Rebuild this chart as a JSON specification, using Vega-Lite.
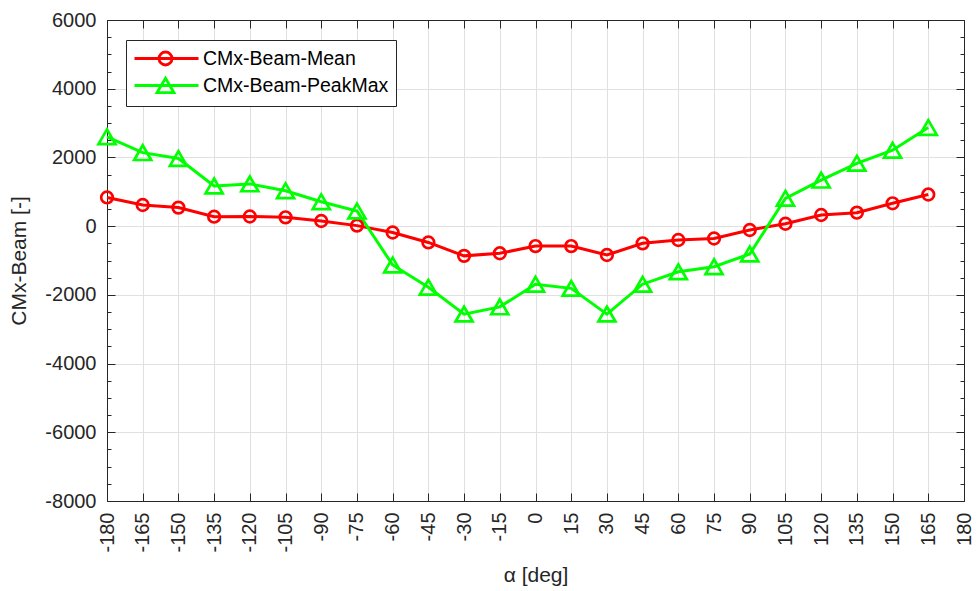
{
  "$schema": "https://vega.github.io/schema/vega-lite/v6.json",
  "width": 857,
  "height": 481,
  "autosize": {"type": "none"},
  "padding": {"left": 107, "top": 20, "right": 15, "bottom": 90},
  "background": "white",
  "data": {
    "values": [
      {"alpha": -180, "series": "CMx-Beam-Mean", "value": 835},
      {"alpha": -165, "series": "CMx-Beam-Mean", "value": 615},
      {"alpha": -150, "series": "CMx-Beam-Mean", "value": 540},
      {"alpha": -135, "series": "CMx-Beam-Mean", "value": 275},
      {"alpha": -120, "series": "CMx-Beam-Mean", "value": 280},
      {"alpha": -105, "series": "CMx-Beam-Mean", "value": 257},
      {"alpha": -90, "series": "CMx-Beam-Mean", "value": 150},
      {"alpha": -75, "series": "CMx-Beam-Mean", "value": 15},
      {"alpha": -60, "series": "CMx-Beam-Mean", "value": -185},
      {"alpha": -45, "series": "CMx-Beam-Mean", "value": -475},
      {"alpha": -30, "series": "CMx-Beam-Mean", "value": -865},
      {"alpha": -15, "series": "CMx-Beam-Mean", "value": -790},
      {"alpha": 0, "series": "CMx-Beam-Mean", "value": -580},
      {"alpha": 15, "series": "CMx-Beam-Mean", "value": -580},
      {"alpha": 30, "series": "CMx-Beam-Mean", "value": -840},
      {"alpha": 45, "series": "CMx-Beam-Mean", "value": -500},
      {"alpha": 60, "series": "CMx-Beam-Mean", "value": -403},
      {"alpha": 75, "series": "CMx-Beam-Mean", "value": -360},
      {"alpha": 90, "series": "CMx-Beam-Mean", "value": -112},
      {"alpha": 105, "series": "CMx-Beam-Mean", "value": 70},
      {"alpha": 120, "series": "CMx-Beam-Mean", "value": 324},
      {"alpha": 135, "series": "CMx-Beam-Mean", "value": 392},
      {"alpha": 150, "series": "CMx-Beam-Mean", "value": 665},
      {"alpha": 165, "series": "CMx-Beam-Mean", "value": 920},
      {"alpha": -180, "series": "CMx-Beam-PeakMax", "value": 2600},
      {"alpha": -165, "series": "CMx-Beam-PeakMax", "value": 2140},
      {"alpha": -150, "series": "CMx-Beam-PeakMax", "value": 1970},
      {"alpha": -135, "series": "CMx-Beam-PeakMax", "value": 1170},
      {"alpha": -120, "series": "CMx-Beam-PeakMax", "value": 1230},
      {"alpha": -105, "series": "CMx-Beam-PeakMax", "value": 1030},
      {"alpha": -90, "series": "CMx-Beam-PeakMax", "value": 710},
      {"alpha": -75, "series": "CMx-Beam-PeakMax", "value": 440},
      {"alpha": -60, "series": "CMx-Beam-PeakMax", "value": -1130},
      {"alpha": -45, "series": "CMx-Beam-PeakMax", "value": -1780},
      {"alpha": -30, "series": "CMx-Beam-PeakMax", "value": -2560},
      {"alpha": -15, "series": "CMx-Beam-PeakMax", "value": -2350},
      {"alpha": 0, "series": "CMx-Beam-PeakMax", "value": -1690},
      {"alpha": 15, "series": "CMx-Beam-PeakMax", "value": -1810},
      {"alpha": 30, "series": "CMx-Beam-PeakMax", "value": -2560},
      {"alpha": 45, "series": "CMx-Beam-PeakMax", "value": -1690},
      {"alpha": 60, "series": "CMx-Beam-PeakMax", "value": -1330},
      {"alpha": 75, "series": "CMx-Beam-PeakMax", "value": -1180},
      {"alpha": 90, "series": "CMx-Beam-PeakMax", "value": -810},
      {"alpha": 105, "series": "CMx-Beam-PeakMax", "value": 810},
      {"alpha": 120, "series": "CMx-Beam-PeakMax", "value": 1340},
      {"alpha": 135, "series": "CMx-Beam-PeakMax", "value": 1830},
      {"alpha": 150, "series": "CMx-Beam-PeakMax", "value": 2210},
      {"alpha": 165, "series": "CMx-Beam-PeakMax", "value": 2870}
    ]
  },
  "resolve": {"axis": {"x": "independent", "y": "independent"}},
  "layer": [
    {
      "mark": {"type": "line", "strokeWidth": 3},
      "encoding": {
        "x": {
          "field": "alpha", "type": "quantitative",
          "scale": {"domain": [-180, 180], "nice": false, "zero": false},
          "axis": {
            "orient": "bottom",
            "title": "α [deg]",
            "values": [-180, -165, -150, -135, -120, -105, -90, -75, -60, -45, -30, -15, 0, 15, 30, 45, 60, 75, 90, 105, 120, 135, 150, 165, 180],
            "labelExpr": "'' + datum.value",
            "labelAngle": 270, "labelAlign": "right", "labelBaseline": "middle",
            "tickSize": -8, "labelPadding": 19,
            "labelOverlap": false, "labelFlush": false,
            "titlePadding": 12,
            "grid": true
          }
        },
        "y": {
          "field": "value", "type": "quantitative",
          "scale": {"domain": [-8000, 6000], "nice": false, "zero": false},
          "axis": {
            "orient": "left",
            "title": "CMx-Beam [-]",
            "values": [-8000, -7500, -7000, -6500, -6000, -5500, -5000, -4500, -4000, -3500, -3000, -2500, -2000, -1500, -1000, -500, 0, 500, 1000, 1500, 2000, 2500, 3000, 3500, 4000, 4500, 5000, 5500, 6000],
            "labelExpr": "datum.value % 2000 === 0 ? '' + datum.value : ''",
            "tickSize": {"condition": {"test": "datum.value % 2000 === 0", "value": -8}, "value": -4},
            "gridOpacity": {"condition": {"test": "datum.value % 2000 === 0", "value": 1}, "value": 0},
            "labelPadding": 19,
            "labelOverlap": false, "labelFlush": false,
            "titlePadding": 15,
            "grid": true
          }
        },
        "color": {
          "field": "series", "type": "nominal",
          "scale": {"domain": ["CMx-Beam-Mean", "CMx-Beam-PeakMax"], "range": ["#ff0000", "#00ff00"]},
          "legend": {
            "title": null,
            "orient": "none", "legendX": 19, "legendY": 20,
            "padding": 7,
            "strokeColor": "#262626", "fillColor": "white",
            "symbolSize": 400, "symbolStrokeWidth": 2.8,
            "labelFontSize": 19.5, "labelFont": "Liberation Sans", "labelColor": "#000000",
            "labelOffset": 47, "labelLimit": 400, "rowPadding": 1,
            "encode": {
              "symbols": {
                "update": {
                  "shape": {"signal": "datum.value === 'CMx-Beam-Mean' ? 'M-1.0,0H5.4M1.45,0A0.65,0.65 0 1,1 2.75,0A0.65,0.65 0 1,1 1.45,0' : 'M-1.0,0H5.4M2.1,-0.72L1.25,0.72L2.95,0.72Z'"},
                  "fill": {"value": "transparent"},
                  "strokeWidth": {"value": 2.8}
                }
              }
            }
          }
        }
      }
    },
    {
      "transform": [{"filter": "datum.series === 'CMx-Beam-Mean'"}],
      "mark": {"type": "point", "shape": "circle", "filled": false, "strokeWidth": 2.7, "size": 135, "opacity": 1},
      "encoding": {
        "x": {"field": "alpha", "type": "quantitative", "axis": null},
        "y": {"field": "value", "type": "quantitative", "axis": null},
        "color": {"field": "series", "type": "nominal", "legend": null}
      }
    },
    {
      "transform": [{"filter": "datum.series === 'CMx-Beam-PeakMax'"}],
      "mark": {"type": "point", "shape": "triangle-up", "filled": false, "strokeWidth": 2.7, "size": 290, "opacity": 1},
      "encoding": {
        "x": {"field": "alpha", "type": "quantitative", "axis": null},
        "y": {"field": "value", "type": "quantitative", "axis": null},
        "color": {"field": "series", "type": "nominal", "legend": null}
      }
    },
    {
      "mark": {"type": "point", "opacity": 0},
      "encoding": {
        "x": {
          "field": "alpha", "type": "quantitative",
          "axis": {
            "orient": "top", "title": null, "labels": false, "grid": false,
            "values": [-180, -165, -150, -135, -120, -105, -90, -75, -60, -45, -30, -15, 0, 15, 30, 45, 60, 75, 90, 105, 120, 135, 150, 165, 180],
            "tickSize": -8
          }
        },
        "y": {
          "field": "value", "type": "quantitative",
          "axis": {
            "orient": "right", "title": null, "labels": false, "grid": false,
            "values": [-8000, -7500, -7000, -6500, -6000, -5500, -5000, -4500, -4000, -3500, -3000, -2500, -2000, -1500, -1000, -500, 0, 500, 1000, 1500, 2000, 2500, 3000, 3500, 4000, 4500, 5000, 5500, 6000],
            "tickSize": {"condition": {"test": "datum.value % 2000 === 0", "value": -8}, "value": -4}
          }
        }
      }
    }
  ],
  "config": {
    "view": {"stroke": null},
    "font": "Liberation Sans",
    "axis": {
      "domainColor": "#262626", "domainWidth": 1,
      "tickColor": "#262626", "tickWidth": 1,
      "labelColor": "#262626", "labelFontSize": 20, "labelFont": "Liberation Sans",
      "titleColor": "#262626", "titleFontSize": 21, "titleFont": "Liberation Sans", "titleFontWeight": "normal",
      "gridColor": "#e0e0e0", "gridWidth": 1
    }
  }
}
